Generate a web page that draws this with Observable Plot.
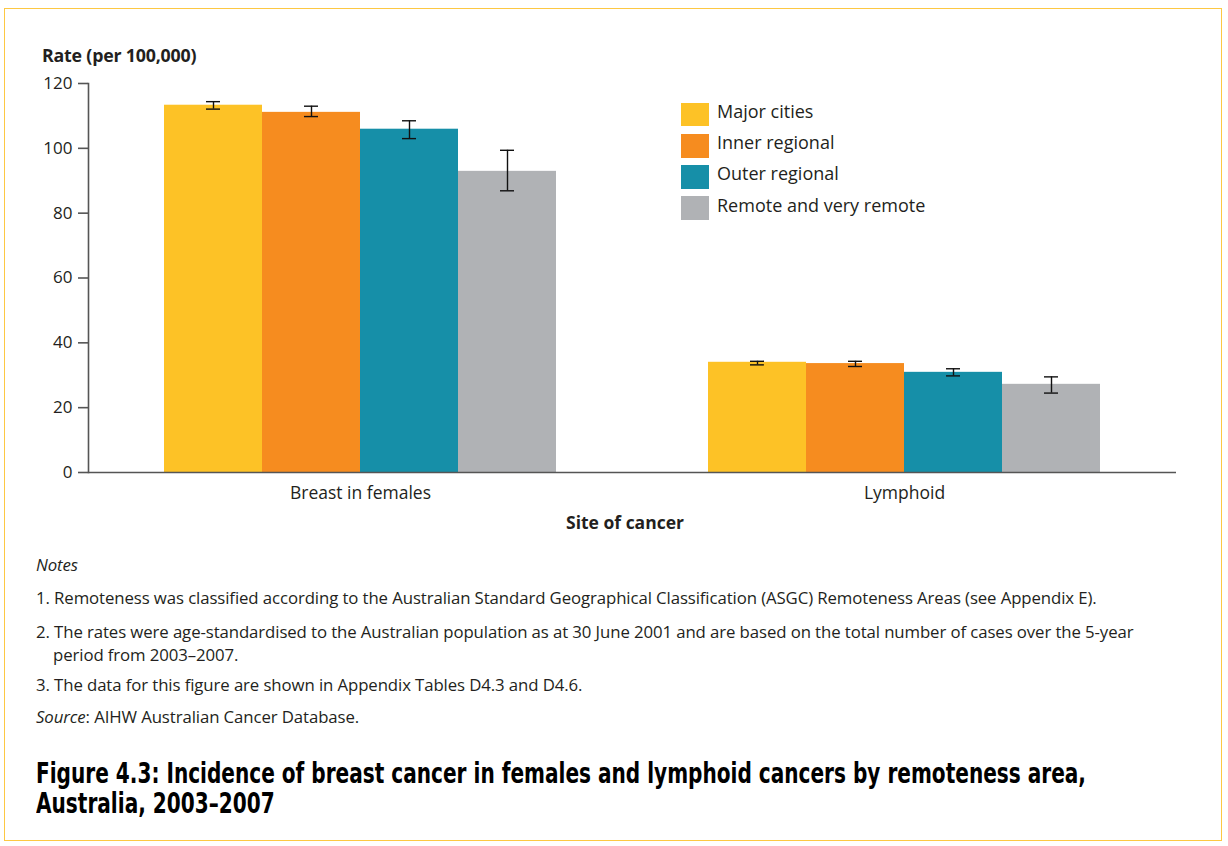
<!DOCTYPE html>
<html>
<head>
<meta charset="utf-8">
<script src="https://cdn.jsdelivr.net/npm/d3@7"></script>
<script src="https://cdn.jsdelivr.net/npm/@observablehq/plot@0.6"></script>
<style>
  html, body { margin: 0; padding: 0; background: #fff; }
  body { width: 1228px; height: 846px; position: relative; overflow: hidden; font-family: "Open Sans", sans-serif; color: #231f20; }
  #frame { position: absolute; left: 4px; top: 8px; width: 1218px; height: 833px; border: 1.5px solid #fdc843; box-sizing: border-box; pointer-events: none; }
  #chart { position: absolute; left: 0; top: 0; }
  .abs { position: absolute; white-space: nowrap; }
  #ylabel { left: 42px; top: 42px; font-weight: 700; font-size: 17.8px; line-height: 26px; letter-spacing: -0.2px; }
  #xlabel { left: 625px; top: 509px; transform: translateX(-50%); font-weight: 700; font-size: 17.5px; line-height: 26px; }
  #legend { left: 681px; top: 99px; }
  .lg-row { display: flex; align-items: center; height: 31.2px; }
  .lg-sw { width: 28px; height: 23.5px; margin-right: 8px; }
  .lg-tx { font-size: 18px; line-height: 24px; margin-top: -7px; }
  .note { left: 36px; font-size: 16.8px; line-height: 20px; letter-spacing: -0.1px; }
  .hang { padding-left: 17px; text-indent: -17px; line-height: 23px; }
  .title { left: 36px; font-family: "DejaVu Sans", sans-serif; font-stretch: condensed; font-weight: 700; font-size: 27.5px; line-height: 30px; color: #000; transform-origin: 0 50%; }
</style>
</head>
<body>
<div id="chart"></div>
<div id="ylabel" class="abs"></div>
<div id="xlabel" class="abs"></div>
<div id="legend" class="abs"></div>
<div id="notes"></div>
<div id="titles"></div>
<div id="frame"></div>
<script>
// ---- data ----
const sites = ["Breast in females", "Lymphoid"];
const regions = ["Major cities", "Inner regional", "Outer regional", "Remote and very remote"];
const colors = ["#fdc226", "#f68c1f", "#168fa8", "#b0b2b5"];
const breastRate = [113.3, 111.1, 105.9, 92.9];
const breastLow  = [112.1, 109.8, 103.0, 86.9];
const breastHigh = [114.4, 113.0, 108.5, 99.4];
const lymphRate  = [34.0, 33.6, 30.9, 27.2];
const lymphLow   = [33.2, 32.7, 29.8, 24.5];
const lymphHigh  = [34.3, 34.3, 32.0, 29.5];
const yTicks = [0, 20, 40, 60, 80, 100, 120];
const yLabel = "Rate (per 100,000)";
const xLabel = "Site of cancer";
const notesTitle = "Notes";
const notes = [
  "1. Remoteness was classified according to the Australian Standard Geographical Classification (ASGC) Remoteness Areas (see Appendix E).",
  "2. The rates were age-standardised to the Australian population as at 30 June 2001 and are based on the total number of cases over the 5-year<br>period from 2003–2007.",
  "3. The data for this figure are shown in Appendix Tables D4.3 and D4.6."
];
const sourceLabel = "Source";
const sourceText = ": AIHW Australian Cancer Database.";
const titleLines = [
  "Figure 4.3: Incidence of breast cancer in females and lymphoid cancers by remoteness area,",
  "Australia, 2003–2007"
];

// ---- table ----
const rows = [];
regions.forEach((r, i) => rows.push({site: sites[0], region: r, rate: breastRate[i], lo: breastLow[i], hi: breastHigh[i]}));
regions.forEach((r, i) => rows.push({site: sites[1], region: r, rate: lymphRate[i], lo: lymphLow[i], hi: lymphHigh[i]}));

const chart = Plot.plot({
  width: 1228,
  height: 540,
  marginTop: 83,
  marginBottom: 68,
  marginLeft: 88,
  marginRight: 52,
  style: {fontFamily: "'Open Sans', sans-serif", fontSize: "17px", color: "#231f20", background: "transparent"},
  fx: {domain: sites, paddingInner: 0, paddingOuter: 0, label: null},
  x: {domain: regions, paddingInner: 0, paddingOuter: 0.7755, axis: null},
  y: {domain: [0, 120], label: null},
  color: {domain: regions, range: colors},
  marks: [
    Plot.barY(rows, {fx: "site", x: "region", y: "rate", fill: "region"}),
    Plot.ruleX(rows, {fx: "site", x: "region", y1: "lo", y2: "hi", stroke: "#111", strokeWidth: 1.4}),
    Plot.tickY(rows, {fx: "site", x: "region", y: "hi", stroke: "#111", strokeWidth: 1.4, insetLeft: 42, insetRight: 42}),
    Plot.tickY(rows, {fx: "site", x: "region", y: "lo", stroke: "#111", strokeWidth: 1.4, insetLeft: 42, insetRight: 42}),
    Plot.ruleY([0], {stroke: "#555", strokeWidth: 1.6}),
    Plot.frame({anchor: "left", facetAnchor: "left", stroke: "#555", strokeWidth: 1.6}),
    Plot.axisY({ticks: yTicks, tickSize: 10, tickPadding: 6, fontSize: 17, stroke: "#555", strokeWidth: 1.6, label: null, facetAnchor: "left"}),
    Plot.axisFx({anchor: "bottom", tickSize: 0, tickPadding: 14, fontSize: 17.5, label: null})
  ]
});
document.getElementById("chart").appendChild(chart);

// ---- labels & legend ----
document.getElementById("ylabel").textContent = yLabel;
document.getElementById("xlabel").textContent = xLabel;
const color = chart.scale("color");
const lg = document.getElementById("legend");
regions.forEach((r, i) => {
  const row = document.createElement("div");
  row.className = "lg-row";
  const sw = document.createElement("div");
  sw.className = "lg-sw";
  sw.style.background = color.apply(r);
  const tx = document.createElement("div");
  tx.className = "lg-tx";
  tx.textContent = r;
  row.appendChild(sw); row.appendChild(tx);
  lg.appendChild(row);
});

// ---- notes ----
const notesEl = document.getElementById("notes");
function addLine(html, top, cls) {
  const d = document.createElement("div");
  d.className = "abs note" + (cls ? " " + cls : "");
  d.style.top = top + "px";
  d.innerHTML = html;
  notesEl.appendChild(d);
  return d;
}
addLine("<i>" + notesTitle + "</i>", 555);
addLine(notes[0], 588);
addLine(notes[1], 620, "hang");
addLine(notes[2], 675);
addLine("<i>" + sourceLabel + "</i>" + sourceText, 707);

// ---- title (narrowed to the reference's width) ----
const titlesEl = document.getElementById("titles");
const titleEls = titleLines.map((t, i) => {
  const d = document.createElement("div");
  d.className = "abs title";
  d.style.top = (758 + i * 30) + "px";
  d.textContent = t;
  titlesEl.appendChild(d);
  return d;
});
const w0 = titleEls[0].getBoundingClientRect().width;
const k = Math.min(1, 1050 / w0);
titleEls.forEach(d => { d.style.transform = "scaleX(" + k + ")"; });
</script>
</body>
</html>
